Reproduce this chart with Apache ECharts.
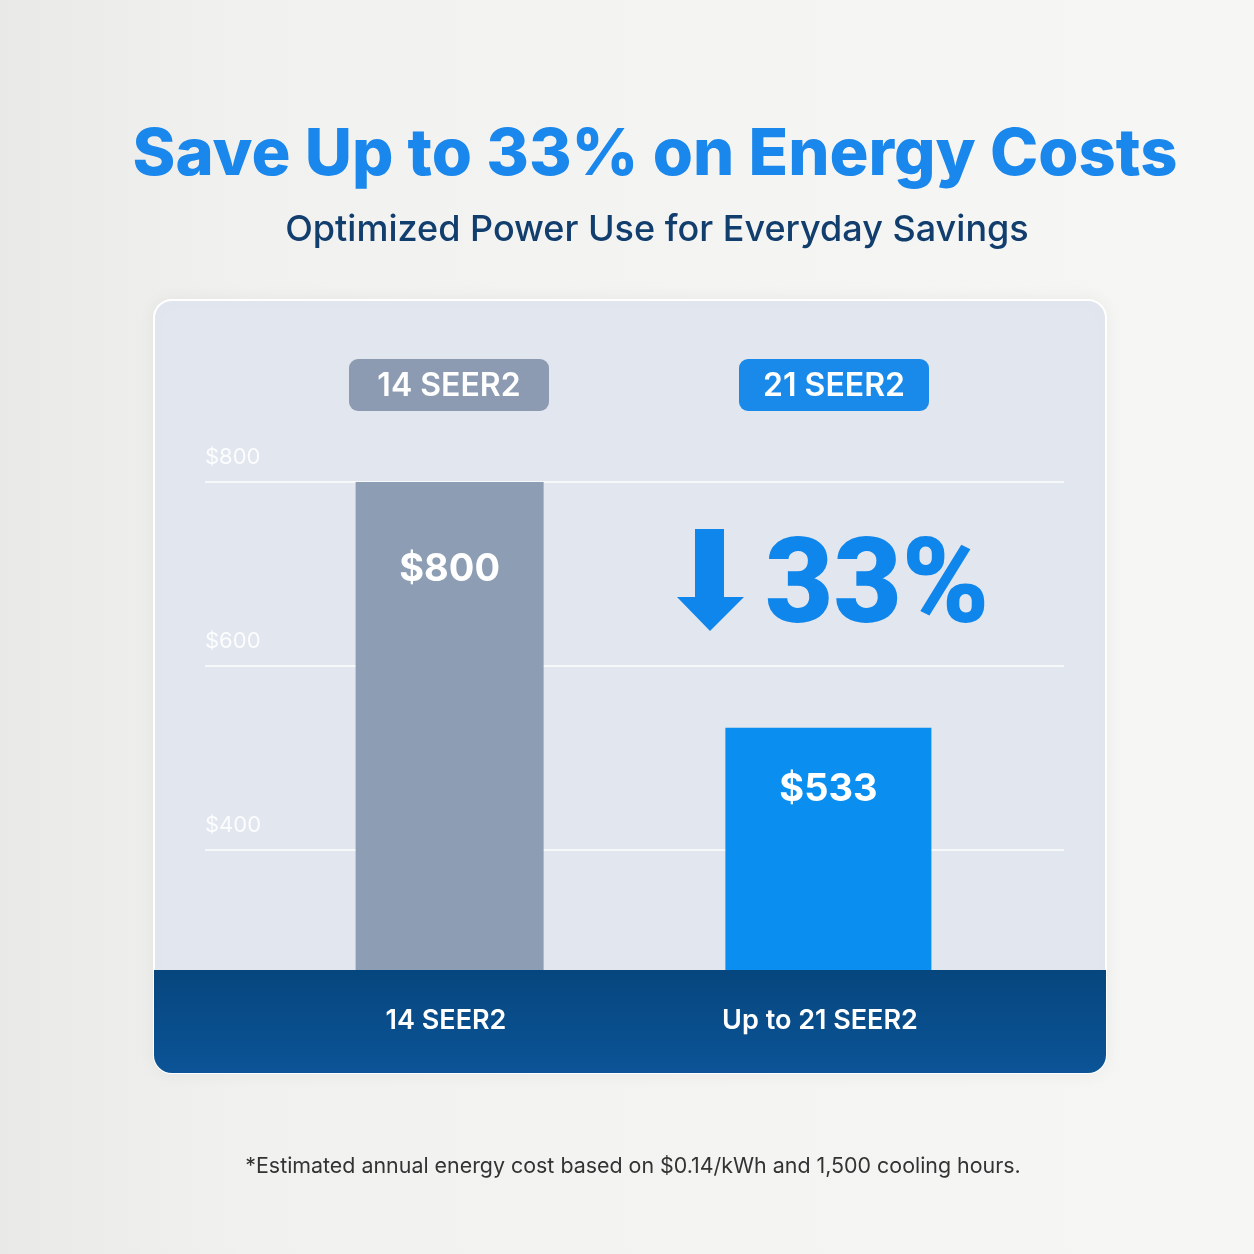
<!DOCTYPE html>
<html>
<head>
<meta charset="utf-8">
<script src="https://cdn.jsdelivr.net/npm/echarts@6/dist/echarts.min.js"></script>
<style>
html,body{margin:0;padding:0;width:1254px;height:1254px;overflow:hidden;}
body{background:linear-gradient(90deg,#e9e9e8 0%,#f1f1f0 20%,#f4f4f3 60%,#f6f6f5 100%);}
#chart{width:1254px;height:1254px;}
</style>
</head>
<body>
<div id="chart"></div>
<script>
// ---- data ----
const categories = ['14 SEER2', 'Up to 21 SEER2'];
const pillLabels = ['14 SEER2', '21 SEER2'];
const costStandard = [800, '-'];
const costHigh = ['-', 533];
const savingsText = '33%';
const yTicks = { min: 200, max: 800, interval: 200 };
const titleText = 'Save Up to 33% on Energy Costs';
const subtitleText = 'Optimized Power Use for Everyday Savings';
const footnoteText = '*Estimated annual energy cost based on $0.14/kWh and 1,500 cooling hours.';

const FONT = 'Inter, "Noto Sans", sans-serif';
const chart = echarts.init(document.getElementById('chart'), null, { renderer: 'canvas' });

const option = {
  backgroundColor: 'transparent',
  animation: false,
  grid: { left: 205, right: 190, top: 482, bottom: 220 },
  xAxis: {
    type: 'category',
    data: categories,
    axisLine: { show: false },
    axisTick: { show: false },
    axisLabel: { show: false }
  },
  yAxis: {
    type: 'value',
    min: yTicks.min, max: yTicks.max, interval: yTicks.interval,
    axisLine: { show: false },
    axisTick: { show: false },
    splitLine: { show: true, lineStyle: { color: 'rgba(255,255,255,0.95)', width: 1.5 } },
    axisLabel: {
      inside: true,
      margin: 0,
      align: 'left',
      verticalAlign: 'bottom',
      padding: [0, 0, 14, 0],
      color: 'rgba(255,255,255,0.9)',
      fontFamily: FONT,
      fontSize: 22,
      formatter: v => '$' + v
    }
  },
  series: [
    {
      type: 'bar',
      data: costHigh,
      barWidth: 206,
      barGap: '-71%',
      itemStyle: { color: '#0a8ff0' },
      label: {
        show: true, position: 'insideTop', distance: 43,
        color: '#fff', fontFamily: FONT, fontWeight: 700, fontSize: 38,
        formatter: p => '$' + p.value
      },
      z: 2
    },
    {
      type: 'bar',
      data: costStandard,
      barWidth: 188,
      barGap: '-71%',
      itemStyle: { color: '#8d9db4' },
      label: {
        show: true, position: 'insideTop', distance: 69,
        color: '#fff', fontFamily: FONT, fontWeight: 700, fontSize: 38,
        formatter: p => '$' + p.value
      },
      z: 2
    }
  ],
  graphic: [
    // panel background
    { type: 'rect', z: -10, shape: { x: 154, y: 300, width: 952, height: 773, r: 18 },
      style: { fill: '#e2e6ee', stroke: '#ffffff', lineWidth: 2, shadowBlur: 18, shadowColor: 'rgba(0,0,0,0.06)' } },
    // bottom band
    { type: 'rect', z: 100, shape: { x: 154, y: 970, width: 952, height: 103, r: [0, 0, 18, 18] },
      style: { fill: new echarts.graphic.LinearGradient(0, 0, 0, 1, [
        { offset: 0, color: '#06467e' }, { offset: 1, color: '#0b5497' }]) } },
    { type: 'text', z: 101, x: 446, y: 1021,
      style: { text: categories[0], fill: '#fff', font: '600 27px ' + FONT, align: 'center', verticalAlign: 'middle' } },
    { type: 'text', z: 101, x: 820, y: 1021,
      style: { text: categories[1], fill: '#fff', font: '600 27px ' + FONT, align: 'center', verticalAlign: 'middle' } },
    // pills
    { type: 'rect', z: 5, shape: { x: 349, y: 359, width: 200, height: 52, r: 9 }, style: { fill: '#8c9bb1' } },
    { type: 'text', z: 6, x: 449, y: 386,
      style: { text: pillLabels[0], fill: '#fff', font: '600 32px ' + FONT, align: 'center', verticalAlign: 'middle' } },
    { type: 'rect', z: 5, shape: { x: 739, y: 359, width: 190, height: 52, r: 9 }, style: { fill: '#1a8aea' } },
    { type: 'text', z: 6, x: 834, y: 386,
      style: { text: pillLabels[1], fill: '#fff', font: '600 32px ' + FONT, align: 'center', verticalAlign: 'middle' } },
    // arrow + 33%
    { type: 'polygon', z: 5,
      shape: { points: [[695, 529], [724, 529], [724, 597], [744, 597], [710, 631], [677, 597], [695, 597]] },
      style: { fill: '#0f86ec' } },
    { type: 'text', z: 5, x: 765, y: 592,
      style: { text: savingsText, fill: '#0f86ec', font: '900 118px Roboto, ' + FONT, align: 'left', verticalAlign: 'middle' } },
    // titles
    { type: 'text', z: 5, x: 655, y: 155,
      style: { text: titleText, fill: '#1a87ec', font: '800 65px ' + FONT, align: 'center', verticalAlign: 'middle' } },
    { type: 'text', z: 5, x: 657, y: 230,
      style: { text: subtitleText, fill: '#123e6e', font: '500 36px ' + FONT, align: 'center', verticalAlign: 'middle' } },
    { type: 'text', z: 5, x: 633, y: 1167,
      style: { text: footnoteText, fill: '#333333', font: '400 21.4px ' + FONT, align: 'center', verticalAlign: 'middle' } }
  ]
};
chart.setOption(option);
</script>
</body>
</html>
